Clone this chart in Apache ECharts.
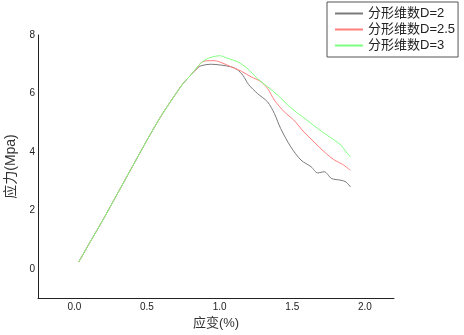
<!DOCTYPE html>
<html lang="zh">
<head>
  <meta charset="UTF-8">
  <title>应力-应变曲线</title>
  <style>
    html, body { margin: 0; padding: 0; background: #fff; }
  </style>
</head>
<body>
  <div id="main" style="width:464px;height:335px;"></div>

  <script src="https://cdn.jsdelivr.net/npm/echarts@6/dist/echarts.min.js"></script>
  <script>
    // 上升段三条曲线基本重合
    var riseStrain = [0.03, 0.1, 0.2, 0.3, 0.4, 0.5, 0.6, 0.7, 0.75, 0.8]
    var riseStress = [0.23, 0.84, 1.7, 2.6, 3.5, 4.4, 5.25, 6.0, 6.35, 6.62]

    // 分形维数 D=2
    var strainD2 = [0.85, 0.873, 0.94, 1.01, 1.08, 1.12, 1.16, 1.2, 1.26, 1.33, 1.377, 1.42, 1.49, 1.56, 1.63, 1.675, 1.72, 1.77, 1.835, 1.87, 1.90]
    var stressD2 = [6.88, 6.95, 7.0, 6.97, 6.91, 6.82, 6.62, 6.3, 6.0, 5.71, 5.31, 4.8, 4.17, 3.72, 3.49, 3.28, 3.32, 3.09, 3.03, 2.97, 2.8]

    // 分形维数 D=2.5
    var strainD25 = [0.85, 0.873, 0.92, 0.964, 1.01, 1.08, 1.15, 1.216, 1.285, 1.33, 1.377, 1.445, 1.51, 1.58, 1.65, 1.72, 1.79, 1.847, 1.90]
    var stressD25 = [6.9, 7.06, 7.12, 7.12, 7.06, 6.91, 6.76, 6.57, 6.4, 6.17, 5.77, 5.37, 5.09, 4.68, 4.34, 4.0, 3.72, 3.57, 3.37]

    // 分形维数 D=3
    var strainD3 = [0.85, 0.9, 0.95, 1.0, 1.056, 1.125, 1.19, 1.26, 1.33, 1.40, 1.47, 1.54, 1.60, 1.675, 1.74, 1.79, 1.835, 1.87, 1.90]
    var stressD3 = [6.93, 7.15, 7.25, 7.29, 7.2, 7.08, 6.86, 6.51, 6.23, 5.94, 5.6, 5.31, 5.09, 4.8, 4.57, 4.4, 4.23, 4.0, 3.83]

    var seriesNames = ['分形维数D=2', '分形维数D=2.5', '分形维数D=3']
    var seriesColors = ['#7a7a7a', '#ff7f7f', '#7fff7f']

    function pairs(xs, ys) {
      var out = []
      for (var i = 0; i < riseStrain.length; i++) out.push([riseStrain[i], riseStress[i]])
      for (var j = 0; j < xs.length; j++) out.push([xs[j], ys[j]])
      return out
    }

    var curves = [pairs(strainD2, stressD2), pairs(strainD25, stressD25), pairs(strainD3, stressD3)]

    var myChart = echarts.init(document.getElementById('main'))

    var options = {
      animation: false,
      textStyle: { fontFamily: 'Liberation Sans, "Noto Sans CJK SC", sans-serif' },
      grid: { left: 38, right: 70, top: 35, bottom: 37, outerBoundsMode: 'none' },
      legend: {
        orient: 'vertical',
        left: 327,
        top: 2,
        padding: [5, 3, 5, 8],
        borderColor: '#555',
        borderWidth: 1,
        icon: 'rect',
        itemWidth: 28,
        itemHeight: 2,
        itemGap: 3,
        textStyle: { fontSize: 13, color: '#222' },
        data: seriesNames.map(function (name, i) {
          return { name: name, itemStyle: { color: seriesColors[i] } }
        })
      },
      xAxis: {
        type: 'value',
        min: -0.25,
        max: 2.2,
        interval: 0.05,
        name: '应变(%)',
        nameLocation: 'middle',
        nameGap: 19,
        nameTextStyle: { fontSize: 13, color: '#333' },
        axisLine: { onZero: false, lineStyle: { color: '#222', width: 1 } },
        axisTick: { show: false },
        splitLine: { show: false },
        axisLabel: {
          interval: 0,
          fontSize: 10,
          color: '#222',
          margin: 4,
          formatter: function (v) {
            var k = v / 0.5
            return Math.abs(k - Math.round(k)) < 1e-6 ? v.toFixed(1) : ''
          }
        }
      },
      yAxis: {
        type: 'value',
        min: -1,
        max: 8,
        interval: 1,
        name: '应力(Mpa)',
        nameLocation: 'middle',
        nameGap: 20,
        nameTextStyle: { fontSize: 14, color: '#333' },
        axisLine: { show: true, onZero: false, lineStyle: { color: '#222', width: 1 } },
        axisTick: { show: false },
        splitLine: { show: false },
        axisLabel: {
          fontSize: 10,
          color: '#222',
          margin: 3,
          formatter: function (v) {
            return Math.round(v) % 2 === 0 ? String(v) : ''
          }
        }
      },
      series: seriesNames.map(function (name, i) {
        return {
          name: name,
          type: 'line',
          data: curves[i],
          symbol: 'none',
          smooth: 0.3,
          lineStyle: { color: seriesColors[i], width: 1 },
          itemStyle: { color: seriesColors[i] }
        }
      })
    }
    myChart.setOption(options)
  </script>
</body>
</html>
